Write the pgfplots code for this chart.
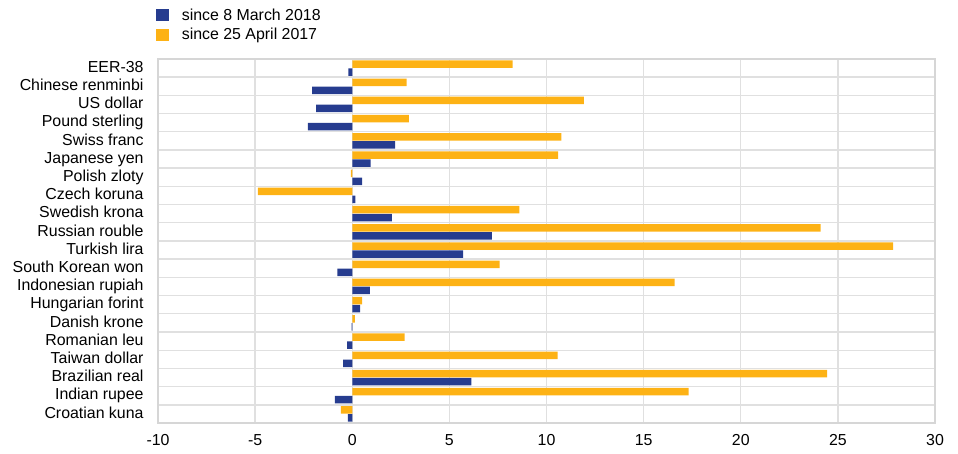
\documentclass[border=0pt]{standalone}
\usepackage{pgfplots}
\pgfplotsset{compat=1.18}
\usepackage{fontspec}
\setmainfont{Liberation Sans}
\definecolor{ecbblue}{RGB}{38,60,143}
\definecolor{ecbyellow}{RGB}{253,178,21}
\definecolor{gridgray}{RGB}{224,224,224}
\definecolor{axisgray}{RGB}{214,214,214}
\begin{document}
\fontsize{15.9}{19}\selectfont
\begin{tikzpicture}
\useasboundingbox (0,0) rectangle (958pt,454pt);
\begin{axis}[
  at={(158pt,31pt)}, anchor=south west,
  scale only axis, width=777pt, height=364pt,
  xmin=-10, xmax=30, ymin=-0.5, ymax=19.5,
  y dir=reverse,
  xtick={-10,-5,0,5,10,15,20,25,30},
  xticklabels={{-10},{-5},{0},{5},{10},{15},{20},{25},{30}},
  ytick={0,...,19},
  yticklabels={EER-38,Chinese renminbi,US dollar,Pound sterling,Swiss franc,Japanese yen,Polish zloty,Czech koruna,Swedish krona,Russian rouble,Turkish lira,South Korean won,Indonesian rupiah,Hungarian forint,Danish krone,Romanian leu,Taiwan dollar,Brazilian real,Indian rupee,Croatian kuna},
  minor ytick={0.5,1.5,...,18.5},
  xmajorgrids, yminorgrids,
  major grid style={gridgray, line width=1.4pt},
  minor grid style={gridgray, line width=1.4pt},
  axis line style={axisgray, line width=1.4pt},
  major tick length=0pt, minor tick length=0pt,
  tick label style={font=\fontsize{15.9}{19}\selectfont, text=black},
  yticklabel style={xshift=-9pt, text height=0.72em, text depth=0.2em},
  xticklabel style={yshift=-6pt},
  xbar, bar width=7.5pt,
  legend style={at={(axis description cs:-0.003,1.142)}, anchor=north west,
    draw=none, fill=none, inner sep=0pt, row sep=4pt, column sep=12pt,
    font=\fontsize{15.9}{19}\selectfont,
    nodes={inner sep=1pt, anchor=west}},
  legend cell align=left,
  legend image code/.code={\fill[#1] (0pt,-6pt) rectangle (13pt,6pt);},
]
\addplot[fill=ecbblue, draw=none, bar shift=-4pt] coordinates {
(-0.2,0) (-2.07,1) (-1.86,2) (-2.29,3) (2.21,4) (0.95,5) (0.51,6) (0.16,7) (2.04,8) (7.19,9)
(5.71,10) (-0.77,11) (0.91,12) (0.4,13) (-0.03,14) (-0.26,15) (-0.47,16) (6.13,17) (-0.89,18) (-0.22,19)};
\addlegendentry{since 8 March 2018}
\addplot[fill=ecbyellow, draw=none, bar shift=4pt] coordinates {
(8.26,0) (2.8,1) (11.93,2) (2.92,3) (10.76,4) (10.6,5) (-0.07,6) (-4.86,7) (8.6,8) (24.11,9)
(27.85,10) (7.59,11) (16.6,12) (0.51,13) (0.14,14) (2.69,15) (10.57,16) (24.44,17) (17.32,18) (-0.59,19)};
\addlegendentry{since 25 April 2017}
\end{axis}
\end{tikzpicture}
\end{document}
